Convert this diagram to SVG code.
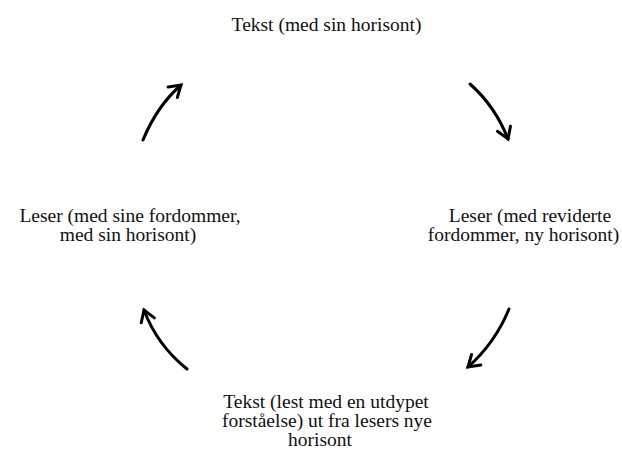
<svg xmlns="http://www.w3.org/2000/svg" width="622" height="450" viewBox="0 0 622 450">
<style>
.t{font-family:'Liberation Serif','Times New Roman',serif;font-size:19.5px;fill:#111;text-anchor:middle}
.c{fill:none;stroke:#000;stroke-width:3;stroke-linecap:round}
</style>
<defs>
<marker id="ah" markerUnits="userSpaceOnUse" markerWidth="30" markerHeight="30" viewBox="-15 -15 30 30" refX="0" refY="0" orient="auto" overflow="visible">
<path d="M-11,-7 L0,0 L-11,7" fill="none" stroke="#000" stroke-width="3" stroke-linecap="round" stroke-linejoin="miter"/>
</marker>
</defs>
<rect width="622" height="450" fill="#fff"/>
<g id="n1" class="t"><text x="326.5" y="31">Tekst (med sin horisont)</text></g>
<g id="n2" class="t"><text x="530" y="222">Leser (med reviderte</text><text x="523.5" y="241">fordommer, ny horisont)</text></g>
<g id="n3" class="t"><text x="326" y="408">Tekst (lest med en utdypet</text><text x="327" y="427">forståelse) ut fra lesers nye</text><text x="320" y="446">horisont</text></g>
<g id="n4" class="t"><text x="130" y="222">Leser (med sine fordommer,</text><text x="128" y="241">med sin horisont)</text></g>
<g id="connectors">
<path class="c" d="M143,140 Q157,106 181,85" marker-end="url(#ah)"/>
<path class="c" d="M470,84 Q495,106 508,139" marker-end="url(#ah)"/>
<path class="c" d="M509,309 Q495,343 468,367" marker-end="url(#ah)"/>
<path class="c" d="M187,369 Q157,345 144,310" marker-end="url(#ah)"/>
</g>
</svg>
